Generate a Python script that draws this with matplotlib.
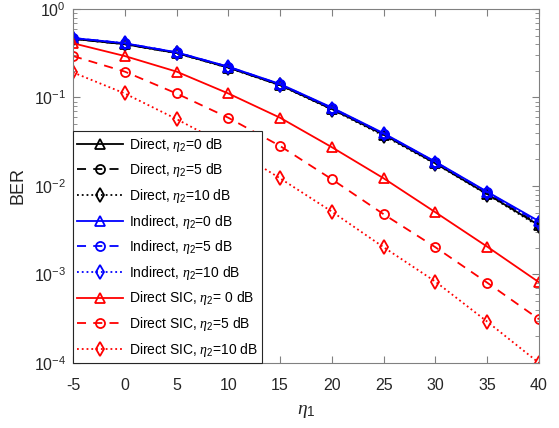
import numpy as np
import matplotlib.pyplot as plt
import matplotlib
matplotlib.use('Agg')

plt.rcParams['font.family'] = ['Liberation Sans', 'DejaVu Sans']
plt.rcParams['mathtext.fontset'] = 'custom'
plt.rcParams['mathtext.it'] = 'Liberation Serif:italic'
plt.rcParams['mathtext.rm'] = 'Liberation Sans'
plt.rcParams['axes.unicode_minus'] = False

# donnees
eta1 = [-5, 0, 5, 10, 15, 20, 25, 30, 35, 40]

direct_0 = [0.46, 0.40, 0.318, 0.218, 0.138, 0.074, 0.038, 0.0180, 0.0081, 0.0036]
direct_5 = [0.46, 0.40, 0.318, 0.218, 0.138, 0.074, 0.038, 0.0181, 0.0082, 0.0037]
direct_10 = [0.46, 0.40, 0.316, 0.216, 0.137, 0.073, 0.037, 0.0178, 0.0080, 0.0035]
indirect_0 = [0.47, 0.41, 0.324, 0.223, 0.142, 0.077, 0.0394, 0.0188, 0.0086, 0.0040]
indirect_5 = [0.47, 0.41, 0.323, 0.222, 0.141, 0.076, 0.0390, 0.0186, 0.0085, 0.0039]
indirect_10 = [0.47, 0.41, 0.322, 0.221, 0.140, 0.075, 0.0386, 0.0184, 0.0084, 0.0038]
sic_0 = [0.41, 0.294, 0.196, 0.111, 0.059, 0.0274, 0.0122, 0.00504, 0.00206, 0.000816]
sic_5 = [0.294, 0.196, 0.111, 0.059, 0.0283, 0.0119, 0.00479, 0.00203, 0.000807, 0.000312]
sic_10 = [0.192, 0.111, 0.057, 0.028, 0.0122, 0.00513, 0.00203, 0.00083, 0.000293, 0.0001]

series = [
    (direct_0, 'k', '-', '^', 7, r'Direct, $\eta_2$=0 dB'),
    (direct_5, 'k', (0, (5, 4)), 'o', 6.5, r'Direct, $\eta_2$=5 dB'),
    (direct_10, 'k', ':', 'd', 7, r'Direct, $\eta_2$=10 dB'),
    (indirect_0, 'b', '-', '^', 7, r'Indirect, $\eta_2$=0 dB'),
    (indirect_5, 'b', (0, (5, 4)), 'o', 6.5, r'Indirect, $\eta_2$=5 dB'),
    (indirect_10, 'b', ':', 'd', 7, r'Indirect, $\eta_2$=10 dB'),
    (sic_0, 'r', '-', '^', 7, r'Direct SIC, $\eta_2$= 0 dB'),
    (sic_5, 'r', (0, (5, 4)), 'o', 6.5, r'Direct SIC, $\eta_2$=5 dB'),
    (sic_10, 'r', ':', 'd', 7, r'Direct SIC, $\eta_2$=10 dB'),
]

fig = plt.figure(figsize=(5.59, 4.28), dpi=100)
ax = fig.add_axes([0.1306, 0.152, 0.8336, 0.827])

for vals, col, ls, mk, ms, lab in series:
    ax.semilogy(eta1, vals, color=col, linestyle=ls, marker=mk, markersize=ms,
                markerfacecolor='none', markeredgewidth=1.3, linewidth=1.3, label=lab)

ax.set_xlim(-5, 40)
ax.set_ylim(1e-4, 1)
ax.set_xticks(np.arange(-5, 41, 5))
ax.set_xlabel(r'$\eta_1$', fontsize=14, color='#262626', labelpad=7)
ax.set_ylabel('BER', fontsize=13, color='#262626', labelpad=5)

for s in ax.spines.values():
    s.set_color('#808080')
ax.tick_params(which='both', direction='in', top=True, right=True, colors='#808080',
               labelcolor='#262626', labelsize=11.5)
ax.tick_params(which='major', length=5)
ax.tick_params(which='minor', length=3)
ax.tick_params(axis='x', pad=11)
ax.tick_params(axis='y', pad=5)

leg = ax.legend(loc='lower left', fontsize=10, borderaxespad=0, handlelength=3.3,
                labelspacing=0.55, fancybox=False, framealpha=1, edgecolor='#262626',
                borderpad=0.3, handletextpad=0.4)
leg.get_frame().set_linewidth(0.8)

fig.savefig('out.png', dpi=100)
